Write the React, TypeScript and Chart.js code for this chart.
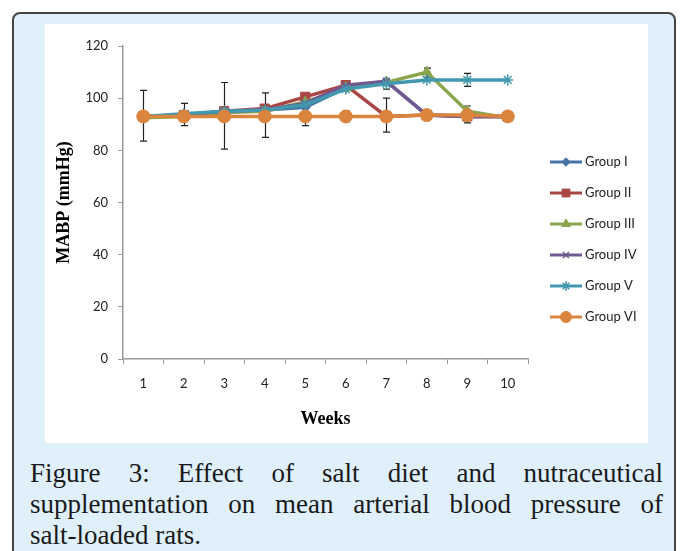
import React, { useEffect, useRef } from 'react';
import { Chart, registerables } from 'chart.js';
import { drawPoint } from 'chart.js/helpers';

Chart.register(...registerables);

const weeks = ['1', '2', '3', '4', '5', '6', '7', '8', '9', '10'];

const groupNames = ['Group I', 'Group II', 'Group III', 'Group IV', 'Group V', 'Group VI'];
const groupI = [93, 93.5, 95, 95.5, 96.5, 104, 106.5, 93.5, 93, 93];
const groupII = [93, 93.5, 95, 96, 100.5, 105, 93, 93.5, 93, 93];
const groupIII = [92.5, 93, 94.5, 95, 98.5, 104, 106, 110, 95, 92.5];
const groupIV = [93, 93.5, 95, 95.5, 98, 105, 106.5, 93.5, 93, 93];
const groupV = [93, 94, 95, 95.5, 97.5, 103.5, 105.5, 107, 107, 107];
const groupVI = [93, 93, 93, 93, 93, 93, 93, 93.5, 93.5, 93];

const colors = ['#4572A7', '#AA4643', '#89A54E', '#71588F', '#4198AF', '#DB843D'];
const pointStyles = ['rectRot', 'rect', 'triangle', 'crossRot', 'star', 'circle'];
const pointRadii = [5, 6.5, 6, 5, 5.5, 6.5];

// error bars (week label, low, high)
const errWeek = ['1', '2', '3', '4', '5', '6', '6', '7', '7', '8', '9', '9'];
const errLow = [83.5, 89.5, 80.5, 85, 89.5, 91, 103.5, 87, 103.5, 108, 90.5, 104.5];
const errHigh = [103, 98, 106, 102, 96, 95, 106.5, 100, 107, 111.5, 97, 109.5];

const series = [groupI, groupII, groupIII, groupIV, groupV, groupVI];

export default function App() {
  const ref = useRef<HTMLCanvasElement>(null);

  useEffect(() => {
    if (!ref.current) return;

    const errorBarPlugin = {
      id: 'errorBars',
      beforeDatasetsDraw(chart: any) {
        const { ctx, scales } = chart;
        const x = scales.x;
        const y = scales.y;
        ctx.save();
        ctx.strokeStyle = '#222';
        ctx.lineWidth = 1.2;
        for (let i = 0; i < errWeek.length; i++) {
          const px = Math.round(x.getPixelForValue(weeks.indexOf(errWeek[i]))) + 0.5;
          const y1 = y.getPixelForValue(errLow[i]);
          const y2 = y.getPixelForValue(errHigh[i]);
          ctx.beginPath();
          ctx.moveTo(px, y1);
          ctx.lineTo(px, y2);
          ctx.moveTo(px - 3.5, y1);
          ctx.lineTo(px + 3.5, y1);
          ctx.moveTo(px - 3.5, y2);
          ctx.lineTo(px + 3.5, y2);
          ctx.stroke();
        }
        ctx.restore();
      },
    };

    const legendPlugin = {
      id: 'lineLegend',
      afterDraw(chart: any) {
        const { ctx, chartArea } = chart;
        const x0 = chartArea.right + 22;
        const y0 = 138;
        const gap = 31;
        ctx.save();
        chart.data.datasets.forEach((ds: any, i: number) => {
          const yy = y0 + i * gap;
          ctx.strokeStyle = ds.borderColor;
          ctx.lineWidth = 3;
          ctx.beginPath();
          ctx.moveTo(x0, yy);
          ctx.lineTo(x0 + 32, yy);
          ctx.stroke();
          ctx.fillStyle = ds.pointBackgroundColor;
          ctx.strokeStyle = ds.pointBorderColor;
          ctx.lineWidth = ds.pointBorderWidth;
          drawPoint(ctx, { pointStyle: ds.pointStyle, radius: ds.pointRadius * 0.85, rotation: 0, borderWidth: ds.pointBorderWidth }, x0 + 16, yy);
          ctx.fillStyle = '#222';
          ctx.font = '13px Lato';
          ctx.textBaseline = 'middle';
          ctx.textAlign = 'left';
          ctx.fillText(ds.label, x0 + 35, yy);
        });
        ctx.restore();
      },
    };

    const datasets = series.map((data, i) => ({
      label: groupNames[i],
      data,
      borderColor: colors[i],
      backgroundColor: colors[i],
      borderWidth: 3.5,
      pointStyle: pointStyles[i],
      pointRadius: pointRadii[i],
      pointBackgroundColor: colors[i],
      pointBorderColor: colors[i],
      pointBorderWidth: pointStyles[i] === 'crossRot' || pointStyles[i] === 'star' ? 1.5 : 1,
      tension: 0,
      order: 6 - i,
    }));

    const tickFont = { family: 'Lato', size: 13 };
    const titleFont = { family: 'Liberation Serif', size: 18, weight: 'bold' as const };

    const chart = new Chart(ref.current, {
      type: 'line',
      data: { labels: weeks, datasets },
      options: {
        animation: false,
        responsive: false,
        layout: { padding: { top: 22, right: 120, left: 0, bottom: 0 } },
        plugins: { legend: { display: false }, tooltip: { enabled: false } },
        scales: {
          x: {
            offset: true,
            grid: { offset: true, drawOnChartArea: false, tickLength: 5, color: '#9a9a9a', lineWidth: 1 },
            border: { color: '#9a9a9a', width: 1.5 },
            ticks: { font: tickFont, color: '#222', padding: 12, maxRotation: 0 },
            title: { display: true, text: 'Weeks', font: titleFont, color: '#000', padding: { top: 12, bottom: 13 } },
            afterFit(scale: any) {
              scale.height = 84;
            },
          },
          y: {
            min: 0,
            max: 120,
            grid: { drawOnChartArea: false, tickLength: 5, color: '#9a9a9a', lineWidth: 1 },
            border: { color: '#9a9a9a', width: 1.5 },
            ticks: { stepSize: 20, font: tickFont, color: '#222', padding: 10 },
            title: { display: true, text: 'MABP (mmHg)', font: titleFont, color: '#000', padding: { top: 9, bottom: 0 } },
            afterFit(scale: any) {
              scale.width = 78;
            },
          },
        },
      },
      plugins: [errorBarPlugin, legendPlugin],
    } as any);

    return () => chart.destroy();
  }, []);

  const captionStyle: React.CSSProperties = {
    fontFamily: '"Liberation Serif", serif',
    fontSize: 27,
    lineHeight: '31px',
    color: '#1a1a1a',
    whiteSpace: 'nowrap',
  };
  const justified: React.CSSProperties = {
    ...captionStyle,
    textAlign: 'justify',
    textAlignLast: 'justify',
  };

  return (
    <div style={{ position: 'fixed', left: 0, top: 0, width: 681, height: 551, background: '#fff', overflow: 'hidden' }}>
      <div
        style={{
          position: 'absolute',
          left: 12,
          top: 12,
          width: 660,
          height: 560,
          background: '#dff0fb',
          border: '2px solid #444',
          borderRadius: 8,
        }}
      />
      <div style={{ position: 'absolute', left: 45, top: 24, width: 603, height: 419, background: '#fff' }}>
        <canvas ref={ref} width={603} height={419} style={{ display: 'block', width: 603, height: 419 }} />
      </div>
      <div style={{ position: 'absolute', left: 30, top: 458, width: 633 }}>
        <div style={justified}>Figure 3: Effect of salt diet and nutraceutical</div>
        <div style={justified}>supplementation on mean arterial blood pressure of</div>
        <div style={captionStyle}>salt-loaded rats.</div>
      </div>
    </div>
  );
}
